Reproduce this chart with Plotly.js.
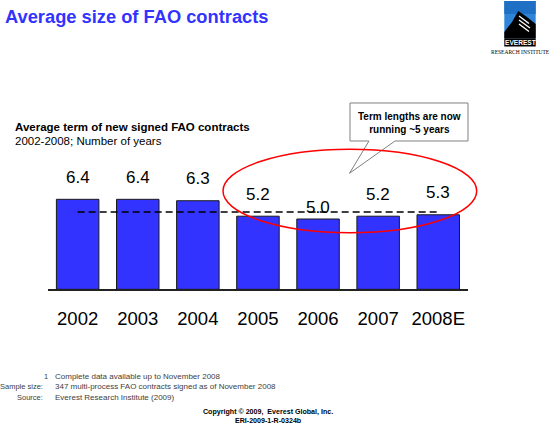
<!DOCTYPE html>
<html>
<head>
<meta charset="utf-8">
<script src="https://cdn.plot.ly/plotly-3.0.1.min.js"></script>
<style>
  html, body { margin: 0; padding: 0; background: #ffffff; }
  #chart { width: 550px; height: 425px; }
</style>
</head>
<body>
<div id="chart"></div>
<script>
// Average contract term per signing year
const categories = ['2002', '2003', '2004', '2005', '2006', '2007', '2008E'];
const avgTermYears = [6.4, 6.4, 6.3, 5.2, 5.0, 5.2, 5.3];
const referenceTerm = 5.5;

// Footnote rows
const footnoteKeys = ['1', 'Sample size:', 'Source:'];
const footnoteTexts = [
  'Complete data available up to November 2008',
  '347 multi-process FAO contracts signed as of November 2008',
  'Everest Research Institute (2009)'
];

const W = 550, H = 425;
const px = x => x / W;
const py = y => 1 - y / H;

const SANS = 'Liberation Sans, Arial, sans-serif';
const BLUE = '#3333ff';

// path string in paper units from pixel points
function paperPath(points) {
  return points.map((p, i) => (i ? 'L' : 'M') + px(p[0]).toFixed(5) + ',' + py(p[1]).toFixed(5)).join(' ') + ' Z';
}

const bars = {
  type: 'bar',
  x: categories,
  y: avgTermYears,
  marker: { color: BLUE, line: { color: '#1a1a1a', width: 1 } },
  hoverinfo: 'none'
};

const annotations = [];

// value labels above each bar (x given as category index)
categories.forEach((c, i) => {
  annotations.push({
    x: i, y: avgTermYears[i], xref: 'x', yref: 'y',
    text: avgTermYears[i].toFixed(1),
    showarrow: false, yanchor: 'middle',
    yshift: c === '2006' ? 12 : 22,
    font: { family: SANS, size: 17, color: '#000000' }
  });
});

// page title and chart heading
annotations.push({
  x: px(3), y: py(16.5), xref: 'paper', yref: 'paper', xanchor: 'left', yanchor: 'middle',
  text: '<b>Average size of FAO contracts</b>', showarrow: false,
  font: { family: SANS, size: 18.3, color: BLUE }
});
annotations.push({
  x: px(13), y: py(126.7), xref: 'paper', yref: 'paper', xanchor: 'left', yanchor: 'middle',
  text: '<b>Average term of new signed FAO contracts</b>', showarrow: false,
  font: { family: SANS, size: 11.5, color: '#000000' }
});
annotations.push({
  x: px(13), y: py(140.7), xref: 'paper', yref: 'paper', xanchor: 'left', yanchor: 'middle',
  text: '2002-2008; Number of years', showarrow: false,
  font: { family: SANS, size: 11.5, color: '#000000' }
});

// callout text
annotations.push({
  x: px(409), y: py(123.5), xref: 'paper', yref: 'paper', xanchor: 'center', yanchor: 'middle',
  text: '<b>Term lengths are now<br>running ~5 years</b>', showarrow: false, align: 'center',
  font: { family: SANS, size: 10, color: '#000000' }
});

// footnotes
const footRows = [376, 386.5, 397];
footnoteKeys.forEach((k, i) => {
  annotations.push({
    x: px(i === 0 ? 50 : 45), y: py(footRows[i]), xref: 'paper', yref: 'paper',
    xanchor: 'right', yanchor: 'middle', text: k, showarrow: false,
    font: { family: SANS, size: 7.5, color: '#404040' }
  });
  annotations.push({
    x: px(53), y: py(footRows[i]), xref: 'paper', yref: 'paper',
    xanchor: 'left', yanchor: 'middle', text: footnoteTexts[i], showarrow: false,
    font: { family: SANS, size: 8, color: '#404040' }
  });
});

// copyright lines
annotations.push({
  x: px(267.6), y: py(416.7), xref: 'paper', yref: 'paper', xanchor: 'center', yanchor: 'middle',
  text: '<b>Copyright © 2009,  Everest Global, Inc.<br>ERI-2009-1-R-0324b</b>', showarrow: false,
  align: 'center',
  font: { family: SANS, size: 7.1, color: '#000000' }
});

// logo lettering
annotations.push({
  x: px(520), y: py(42.4), xref: 'paper', yref: 'paper', xanchor: 'center', yanchor: 'middle',
  text: '<b>EVEREST</b>', showarrow: false,
  font: { family: SANS, size: 6.6, color: '#ffffff' }
});
annotations.push({
  x: px(520.5), y: py(52), xref: 'paper', yref: 'paper', xanchor: 'center', yanchor: 'middle',
  text: 'RESEARCH INSTITUTE', showarrow: false,
  font: { family: 'Liberation Serif, serif', size: 5.5, color: '#000000' }
});

const shapes = [
  // reference level across the years (category indices)
  {
    type: 'line', xref: 'x', yref: 'y', x0: 0, x1: categories.length - 1,
    y0: referenceTerm, y1: referenceTerm,
    line: { color: '#000000', width: 1.5, dash: '7px,4px' }
  },
  // callout box with pointer
  {
    type: 'path', xref: 'paper', yref: 'paper',
    path: paperPath([[350, 103], [468, 103], [468, 141], [395, 141], [349.5, 173.3], [369, 141], [350, 141]]),
    fillcolor: '#ffffff', line: { color: '#808080', width: 1 }
  },
  // highlight ellipse
  {
    type: 'circle', xref: 'paper', yref: 'paper',
    x0: px(223), x1: px(476.7), y0: py(232.7), y1: py(149.3),
    line: { color: '#ff0000', width: 1.5 }
  },
  // logo: sky square
  {
    type: 'rect', xref: 'paper', yref: 'paper',
    x0: px(504.3), x1: px(535.7), y0: py(38.5), y1: py(1),
    fillcolor: '#2f86d8', line: { width: 0 }
  },
  {
    type: 'rect', xref: 'paper', yref: 'paper',
    x0: px(504.3), x1: px(535.7), y0: py(14), y1: py(1),
    fillcolor: '#1f6fc4', line: { width: 0 }
  },
  // logo: mountain
  {
    type: 'path', xref: 'paper', yref: 'paper',
    path: paperPath([[504.3, 32], [512, 22], [518.3, 11], [527, 17], [535.7, 24], [535.7, 38.5], [504.3, 38.5]]),
    fillcolor: '#000000', line: { width: 0 }
  },
  // logo: name band
  {
    type: 'rect', xref: 'paper', yref: 'paper',
    x0: px(504.3), x1: px(535.7), y0: py(46.5), y1: py(38.5),
    fillcolor: '#000000', line: { width: 0 }
  }
];

// logo: white ridge stripes
[[[519, 16], [529, 23.5]], [[519, 20], [530, 28]], [[519, 24], [529, 31.5]]].forEach(([a, b]) => {
  shapes.push({
    type: 'line', xref: 'paper', yref: 'paper',
    x0: px(a[0]), y0: py(a[1]), x1: px(b[0]), y1: py(b[1]),
    line: { color: '#ffffff', width: 1.3 }
  });
});

const layout = {
  width: W, height: H,
  margin: { l: 0, r: 0, t: 0, b: 0, pad: 0 },
  paper_bgcolor: '#ffffff', plot_bgcolor: '#ffffff',
  showlegend: false,
  bargap: 0.293,
  xaxis: {
    type: 'category', domain: [px(47.6), px(468.3)], range: [-0.5, 6.5],
    showline: true, linecolor: '#222222', linewidth: 1.5,
    ticks: '', showgrid: false, zeroline: false,
    tickangle: 0,
    ticklabelstandoff: 12,
    tickfont: { family: SANS, size: 18.5, color: '#000000' },
    fixedrange: true
  },
  yaxis: {
    domain: [1 - 289.3 / H, 1 - (289.3 - 7 * 14.06) / H], range: [0, 7],
    visible: false, showgrid: false, zeroline: false, fixedrange: true
  },
  annotations: annotations,
  shapes: shapes,
  font: { family: SANS }
};

Plotly.newPlot('chart', [bars], layout, { staticPlot: true, displayModeBar: false });
</script>
</body>
</html>
